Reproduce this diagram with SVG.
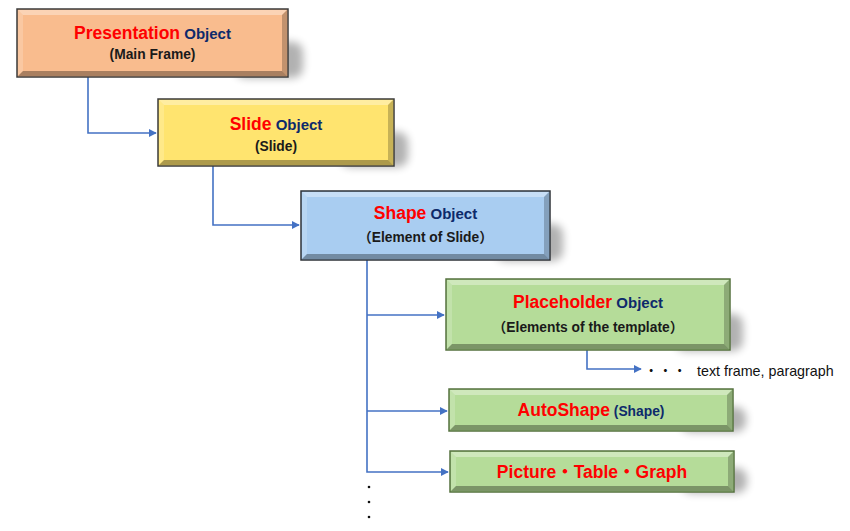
<svg xmlns="http://www.w3.org/2000/svg" width="850" height="531" viewBox="0 0 850 531">
<defs>
<filter id="blur" x="-50%" y="-50%" width="200%" height="200%"><feGaussianBlur stdDeviation="4.5"/></filter>
<marker id="arr" viewBox="0 0 10 10" refX="9" refY="5" markerWidth="8" markerHeight="8" markerUnits="userSpaceOnUse" orient="auto"><path d="M0,0 L10,5 L0,10 z" fill="#4472C4"/></marker>
</defs>
<style>
.t{font-family:"Liberation Sans","Noto Sans CJK JP",sans-serif;font-weight:bold;text-anchor:middle}
.red{fill:#FF0000;font-size:17.5px}
.navy{fill:#0D2A6B;font-size:15px}
.sub{fill:#1a1a1a;font-size:13.8px}
.conn{fill:none;stroke:#4472C4;stroke-width:1.6}
.shadow{fill:#000;opacity:0.3;filter:url(#blur)}
.hi{fill:#fff;opacity:0.35}
.hi2{fill:#fff;opacity:0.18}
.lo{fill:#000;opacity:0.22}
.lo2{fill:#000;opacity:0.32}
.plain{font-family:"Liberation Sans","Noto Sans CJK JP",sans-serif;font-size:14.3px;fill:#111}
</style>
<rect width="850" height="531" fill="#fff"/>

<g id="connectors">
<path class="conn" d="M88,77 V133 H156" marker-end="url(#arr)"/>
<path class="conn" d="M213,166 V225 H299" marker-end="url(#arr)"/>
<path class="conn" d="M367,260 V472 H448" marker-end="url(#arr)"/>
<path class="conn" d="M367,315 H444" marker-end="url(#arr)"/>
<path class="conn" d="M367,411 H447" marker-end="url(#arr)"/>
<path class="conn" d="M587,350 V369 H641" marker-end="url(#arr)"/>
</g>

<g id="presentation">
<rect class="shadow" x="235" y="42" width="68" height="36" rx="10"/>
<rect x="17" y="9" width="271" height="68" fill="#F9BC8E" stroke="#3b3b3b" stroke-width="1.5"/>
<polygon class="hi" points="18,10 287,10 282,15 23,15"/>
<polygon class="hi2" points="18,10 23,15 23,71 18,76"/>
<polygon class="lo" points="287,10 287,76 282,71 282,15"/>
<polygon class="lo2" points="18,76 287,76 282,71 23,71"/>
<text class="t" x="152.5" y="39"><tspan class="red">Presentation</tspan><tspan class="navy"> Object</tspan></text>
<text class="t sub" x="152.5" y="59">(Main Frame)</text>
</g>

<g id="slide">
<rect class="shadow" x="340" y="132" width="68" height="35" rx="10"/>
<rect x="158" y="99" width="236" height="67" fill="#FFE46F" stroke="#3b3b3b" stroke-width="1.5"/>
<polygon class="hi" points="159,100 393,100 388,105 164,105"/>
<polygon class="hi2" points="159,100 164,105 164,160 159,165"/>
<polygon class="lo" points="393,100 393,165 388,160 388,105"/>
<polygon class="lo2" points="159,165 393,165 388,160 164,160"/>
<text class="t" x="276" y="130"><tspan class="red">Slide</tspan><tspan class="navy"> Object</tspan></text>
<text class="t sub" x="276" y="151">(Slide)</text>
</g>

<g id="shape">
<rect class="shadow" x="495" y="224" width="68" height="37" rx="10"/>
<rect x="301" y="191" width="249" height="69" fill="#A9CDF1" stroke="#2f3338" stroke-width="1.5"/>
<polygon class="hi" points="302,192 549,192 544,197 307,197"/>
<polygon class="hi2" points="302,192 307,197 307,254 302,259"/>
<polygon class="lo" points="549,192 549,259 544,254 544,197"/>
<polygon class="lo2" points="302,259 549,259 544,254 307,254"/>
<text class="t" x="425.5" y="219"><tspan class="red">Shape</tspan><tspan class="navy"> Object</tspan></text>
<text class="t sub" x="425.5" y="242">（Element of Slide）</text>
</g>

<g id="placeholder">
<rect class="shadow" x="675" y="314" width="68" height="37" rx="10"/>
<rect x="446" y="279" width="284" height="71" fill="#B5DC99" stroke="#55713f" stroke-width="1.5"/>
<polygon class="hi" points="447,280 729,280 724,285 452,285"/>
<polygon class="hi2" points="447,280 452,285 452,344 447,349"/>
<polygon class="lo" points="729,280 729,349 724,344 724,285"/>
<polygon class="lo2" points="447,349 729,349 724,344 452,344"/>
<text class="t" x="588" y="308"><tspan class="red">Placeholder</tspan><tspan class="navy"> Object</tspan></text>
<text class="t sub" x="588" y="332">（Elements of the template）</text>
</g>

<g id="textframe">
<text class="plain" x="644" y="376">・・・</text>
<text class="plain" x="697" y="376">text frame, paragraph</text>
</g>

<g id="autoshape">
<rect class="shadow" x="680" y="407" width="66" height="25" rx="10"/>
<rect x="449" y="389" width="284" height="42" fill="#B5DC99" stroke="#55713f" stroke-width="1.5"/>
<polygon class="hi" points="450,390 732,390 727,395 455,395"/>
<polygon class="hi2" points="450,390 455,395 455,425 450,430"/>
<polygon class="lo" points="732,390 732,430 727,425 727,395"/>
<polygon class="lo2" points="450,430 732,430 727,425 455,425"/>
<text class="t" x="591" y="416"><tspan class="red">AutoShape</tspan><tspan class="navy" style="font-size:13.8px"> (Shape)</tspan></text>
</g>

<g id="picture">
<rect class="shadow" x="681" y="468" width="66" height="25" rx="10"/>
<rect x="450" y="451" width="284" height="41" fill="#B5DC99" stroke="#55713f" stroke-width="1.5"/>
<polygon class="hi" points="451,452 733,452 728,457 456,457"/>
<polygon class="hi2" points="451,452 456,457 456,486 451,491"/>
<polygon class="lo" points="733,452 733,491 728,486 728,457"/>
<polygon class="lo2" points="451,491 733,491 728,486 456,486"/>
<text class="t red" x="592" y="478">Picture・Table・Graph</text>
</g>

<g id="more">
<circle cx="369" cy="487" r="1.3" fill="#111"/>
<circle cx="369" cy="502" r="1.3" fill="#111"/>
<circle cx="369" cy="517" r="1.3" fill="#111"/>
</g>
</svg>
